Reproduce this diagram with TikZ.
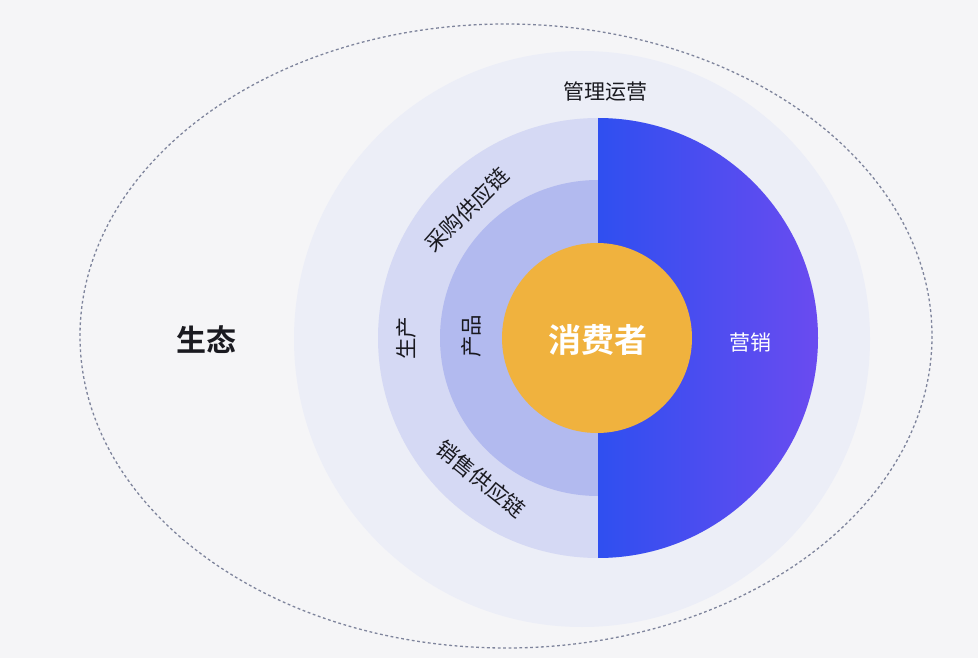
\documentclass[tikz,border=0pt]{standalone}
\usepackage{fontspec}
\setmainfont{Noto Sans CJK SC}[BoldFont={Noto Sans CJK SC Bold}]

\definecolor{bgcol}{HTML}{F5F5F7}
\definecolor{opscol}{HTML}{ECEEF7}
\definecolor{chaincol}{HTML}{D5D9F4}
\definecolor{prodcol}{HTML}{B2BAEF}
\definecolor{usercol}{HTML}{F0B23E}
\definecolor{mktleft}{HTML}{2F4FF0}
\definecolor{mktright}{HTML}{6A4BF0}
\definecolor{txtcol}{HTML}{1A1A20}
\definecolor{dashcol}{HTML}{7E849C}

\tikzset{
  lbl/.style = {font=\fontsize{21}{21}\selectfont, text=txtcol, inner sep=0pt},
  ringlbl/.style = {lbl, font=\fontsize{21.5}{21.5}\selectfont},
  bigwhite/.style = {inner sep=0pt, text=white, font=\bfseries\fontsize{33}{33}\selectfont}
}

\begin{document}
\begin{tikzpicture}[x=1pt, y=-1pt]
	\fill[bgcol] (0, 0) rectangle (978, 658);
	\useasboundingbox (0, 0) rectangle (978, 658);
%%%%%%%%%%%
	\draw[dashcol, line width=1.3pt, dash pattern=on 2.8pt off 2.6pt] (506, 336) ellipse (426 and 312);
	\fill[opscol] (582, 339) circle (288);
	\fill[chaincol] (598, 338) circle (220);
	\fill[prodcol] (598, 338) circle (158);
	\shade[left color=mktleft, right color=mktright] (598, 338) -- (598, 118) arc[start angle=-90, end angle=90, radius=220] -- cycle;
	\fill[usercol] (597, 338) circle (95);
%%%%%%%%%%%
	\node[lbl, font=\bfseries\fontsize{30}{30}\selectfont] (eco) at (206, 340) {生态};
	\node[lbl] (ops) at (605, 92) {管理运营};
	\node[ringlbl, rotate=45] (buy) at (467, 210) {采购供应链};
	\node[ringlbl, rotate=90] (make) at (406, 338) {生产};
	\node[ringlbl, rotate=-39] (sell) at (481, 479) {销售供应链};
	\node[ringlbl, rotate=90] (prod) at (471, 336) {产品};
	\node[bigwhite] (user) at (598, 340) {消费者};
	\node[lbl, text=white] (mkt) at (750, 343) {营销};
\end{tikzpicture}
\end{document}
